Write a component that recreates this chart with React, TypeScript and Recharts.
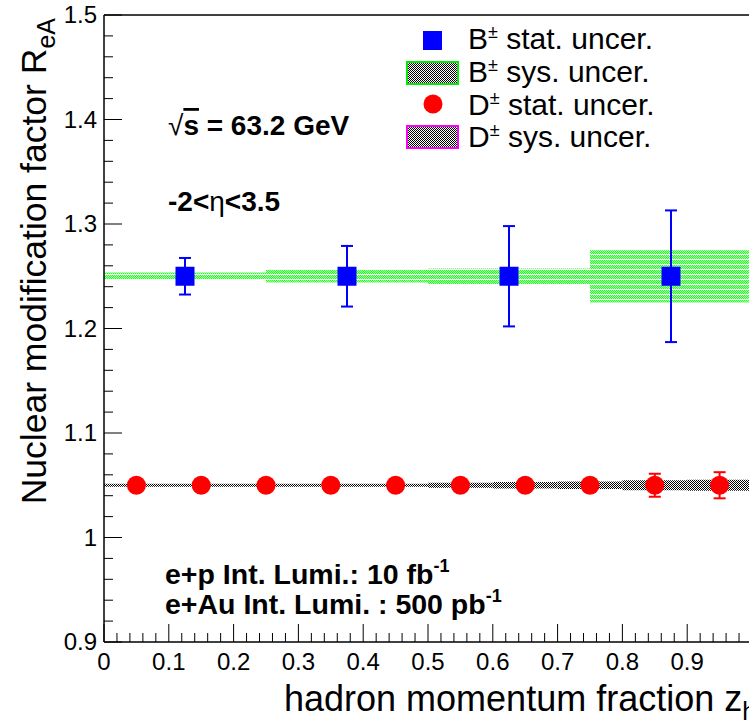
import {
  ComposedChart,
  Scatter,
  ErrorBar,
  XAxis,
  YAxis,
  ReferenceArea,
  ReferenceLine,
} from 'recharts';

const FONT = '"Liberation Sans", Arial, Helvetica, sans-serif';

// B meson points (bins of 0.25 in z_h)
const bZ = [0.125, 0.375, 0.625, 0.875];
const bRatio = [1.25, 1.25, 1.25, 1.25];
const bStat = [0.0175, 0.029, 0.048, 0.063];
const bBinLo = [0, 0.25, 0.5, 0.75];
const bBinHi = [0.25, 0.5, 0.75, 1.0];
const bSys = [0.0035, 0.006, 0.0075, 0.025];

// D meson points (bins of 0.1 in z_h)
const dZ = [0.05, 0.15, 0.25, 0.35, 0.45, 0.55, 0.65, 0.75, 0.85, 0.95];
const dRatio = [1.05, 1.05, 1.05, 1.05, 1.05, 1.05, 1.05, 1.05, 1.05, 1.05];
const dStat = [0.001, 0.001, 0.0015, 0.002, 0.002, 0.003, 0.004, 0.006, 0.011, 0.0125];
const dBinLo = [0, 0.1, 0.2, 0.3, 0.4, 0.5, 0.6, 0.7, 0.8, 0.9];
const dBinHi = [0.1, 0.2, 0.3, 0.4, 0.5, 0.6, 0.7, 0.8, 0.9, 1.0];
const dSys = [0.0015, 0.0015, 0.0015, 0.0015, 0.0015, 0.0025, 0.003, 0.0035, 0.0048, 0.0052];

const xMajorTicks = [0, 0.1, 0.2, 0.3, 0.4, 0.5, 0.6, 0.7, 0.8, 0.9, 1.0];
const xTickLabels = ['0', '0.1', '0.2', '0.3', '0.4', '0.5', '0.6', '0.7', '0.8', '0.9', ''];
const yMajorTicks = [0.9, 1.0, 1.1, 1.2, 1.3, 1.4, 1.5];
const yTickLabels = ['0.9', '1', '1.1', '1.2', '1.3', '1.4', '1.5'];

const bData = bZ.map((z, i) => ({ z, ratio: bRatio[i], err: bStat[i] }));
const dData = dZ.map((z, i) => ({ z, ratio: dRatio[i], err: dStat[i] }));

// 5 subdivisions between major ticks, ROOT style
const withMinor = (major: number[]) => {
  const out: number[] = [];
  for (let i = 0; i < major.length - 1; i++) {
    const step = (major[i + 1] - major[i]) / 5;
    for (let k = 0; k < 5; k++) out.push(+(major[i] + k * step).toFixed(4));
  }
  out.push(major[major.length - 1]);
  return out;
};
const majorIndex = (major: number[], v: number) =>
  major.findIndex((m) => Math.abs(m - v) < 1e-6);

const XTick = (props: any) => {
  const { x, y, payload } = props;
  const i = majorIndex(xMajorTicks, payload.value);
  return (
    <g>
      <line x1={x} x2={x} y1={y} y2={y - (i >= 0 ? 18 : 9)} stroke='#000' strokeWidth={1} />
      {i >= 0 && xTickLabels[i] && (
        <text x={x} y={y + 28} textAnchor='middle' fontSize={24} fontFamily={FONT} fill='#000'>
          {xTickLabels[i]}
        </text>
      )}
    </g>
  );
};

const YTick = (props: any) => {
  const { x, y, payload } = props;
  const i = majorIndex(yMajorTicks, payload.value);
  return (
    <g>
      <line x1={x} x2={x + (i >= 0 ? 18 : 9)} y1={y} y2={y} stroke='#000' strokeWidth={1} />
      {i >= 0 && (
        <text x={x - 7} y={y + 8} textAnchor='end' fontSize={24} fontFamily={FONT} fill='#000'>
          {yTickLabels[i]}
        </text>
      )}
    </g>
  );
};

const BSquare = (p: any) => (
  <rect x={p.cx - 9.5} y={p.cy - 9.5} width={19} height={19} fill='#0000ff' />
);
const DCircle = (p: any) => <circle cx={p.cx} cy={p.cy} r={9.5} fill='#ff0000' />;

function Overlay() {
  const txt = { fontFamily: FONT, fill: '#000' };
  return (
    <svg
      width={749}
      height={721}
      style={{ position: 'absolute', left: 0, top: 0, overflow: 'visible' }}
    >
      <defs>
        {/* light green dotted stripes */}
        <pattern id='greenHatch' width={2} height={5} patternUnits='userSpaceOnUse'>
          <rect x={0} y={0} width={1} height={1} fill='#22ff22' />
          <rect x={1} y={1} width={1} height={1} fill='#22ff22' />
          <rect x={0} y={2} width={1} height={1} fill='#22ff22' />
          <rect x={1} y={3} width={1} height={1} fill='#22ff22' />
          <rect x={1} y={0} width={1} height={1} fill='#aaffaa' />
          <rect x={0} y={1} width={1} height={1} fill='#aaffaa' />
          <rect x={1} y={2} width={1} height={1} fill='#aaffaa' />
          <rect x={0} y={3} width={1} height={1} fill='#aaffaa' />
        </pattern>
        <pattern id='darkHatch' width={2} height={2} patternUnits='userSpaceOnUse'>
          <rect x={0} y={0} width={1} height={1} fill='#000' />
          <rect x={1} y={1} width={1} height={1} fill='#000' />
        </pattern>
      </defs>

      {/* legend */}
      <rect x={423} y={31} width={19} height={19} fill='#0000ff' />
      <rect x={407} y={62} width={51} height={22} fill='url(#darkHatch)' stroke='#00ee00' strokeWidth={2} />
      <circle cx={433} cy={104} r={9.5} fill='#ff0000' />
      <rect x={407} y={126} width={51} height={22} fill='url(#darkHatch)' stroke='#ff00ff' strokeWidth={2} />
      {[
        ['B', 'stat. uncer.', 49],
        ['B', 'sys. uncer.', 82],
        ['D', 'stat. uncer.', 115],
        ['D', 'sys. uncer.', 147],
      ].map(([m, t, y]) => (
        <text key={String(y)} x={468} y={Number(y)} fontSize={30} {...txt}>
          {m}
          <tspan dy={-11} fontSize={18}>±</tspan>
          <tspan dy={11}> {t}</tspan>
        </text>
      ))}

      {/* annotations */}
      <text x={168} y={135} fontSize={28} fontWeight='bold' {...txt}>
        <tspan fontWeight='normal'>√</tspan>
        <tspan textDecoration='overline'>s</tspan> = 63.2 GeV
      </text>
      <text x={168} y={211} fontSize={28} fontWeight='bold' {...txt}>
        -2&lt;<tspan fontWeight='normal'>η</tspan>&lt;3.5
      </text>
      <text x={165} y={584} fontSize={28.5} fontWeight='bold' {...txt}>
        e+p Int. Lumi.: 10 fb<tspan dy={-12} fontSize={18}>-1</tspan>
      </text>
      <text x={165} y={614} fontSize={28.5} fontWeight='bold' {...txt}>
        e+Au Int. Lumi. : 500 pb<tspan dy={-12} fontSize={18}>-1</tspan>
      </text>

      {/* axis titles */}
      <text
        transform='translate(46, 18) rotate(-90)'
        textAnchor='end'
        fontSize={35.5}
        {...txt}
      >
        Nuclear modification factor R<tspan dy={9} fontSize={25}>eA</tspan>
      </text>
      <text x={284} y={711} fontSize={36} {...txt}>
        hadron momentum fraction z<tspan dy={9} fontSize={25}>h</tspan>
      </text>
    </svg>
  );
}

export default function App() {
  return (
    <div
      style={{
        position: 'absolute',
        left: 0,
        top: 0,
        width: 749,
        height: 721,
        overflow: 'hidden',
        background: '#fff',
      }}
    >
      <ComposedChart
        width={760}
        height={721}
        margin={{ top: 15, right: 8, bottom: 0, left: 0 }}
      >
        <XAxis
          dataKey='z'
          type='number'
          domain={[0, 1]}
          allowDataOverflow
          ticks={withMinor(xMajorTicks)}
          interval={0}
          tickSize={0}
          tickMargin={0}
          height={79}
          tick={<XTick />}
          axisLine={{ stroke: '#000', strokeWidth: 1.5 }}
        />
        <YAxis
          type='number'
          domain={[0.9, 1.5]}
          allowDataOverflow
          ticks={withMinor(yMajorTicks)}
          interval={0}
          tickSize={0}
          tickMargin={0}
          width={104}
          tick={<YTick />}
          axisLine={{ stroke: '#000', strokeWidth: 1.5 }}
        />
        <ReferenceLine y={1.5} stroke='#000' strokeWidth={1.5} />

        {/* systematic boxes */}
        {bZ.map((_, i) => (
          <ReferenceArea
            key={`bs${i}`}
            x1={bBinLo[i]}
            x2={bBinHi[i]}
            y1={bRatio[i] - bSys[i]}
            y2={bRatio[i] + bSys[i]}
            fill='url(#greenHatch)'
            fillOpacity={1}
            stroke='none'
            ifOverflow='visible'
          />
        ))}
        {dZ.map((_, i) => (
          <ReferenceArea
            key={`ds${i}`}
            x1={dBinLo[i]}
            x2={dBinHi[i]}
            y1={dRatio[i] - dSys[i]}
            y2={dRatio[i] + dSys[i]}
            fill='url(#darkHatch)'
            fillOpacity={1}
            stroke='none'
            ifOverflow='visible'
          />
        ))}

        <Scatter data={bData} dataKey='ratio' shape={BSquare} isAnimationActive={false}>
          <ErrorBar dataKey='err' direction='y' width={6} stroke='#0000ff' strokeWidth={2} isAnimationActive={false} />
        </Scatter>
        <Scatter data={dData} dataKey='ratio' shape={DCircle} isAnimationActive={false}>
          <ErrorBar dataKey='err' direction='y' width={6} stroke='#ff0000' strokeWidth={2} isAnimationActive={false} />
        </Scatter>
      </ComposedChart>
      <Overlay />
    </div>
  );
}
